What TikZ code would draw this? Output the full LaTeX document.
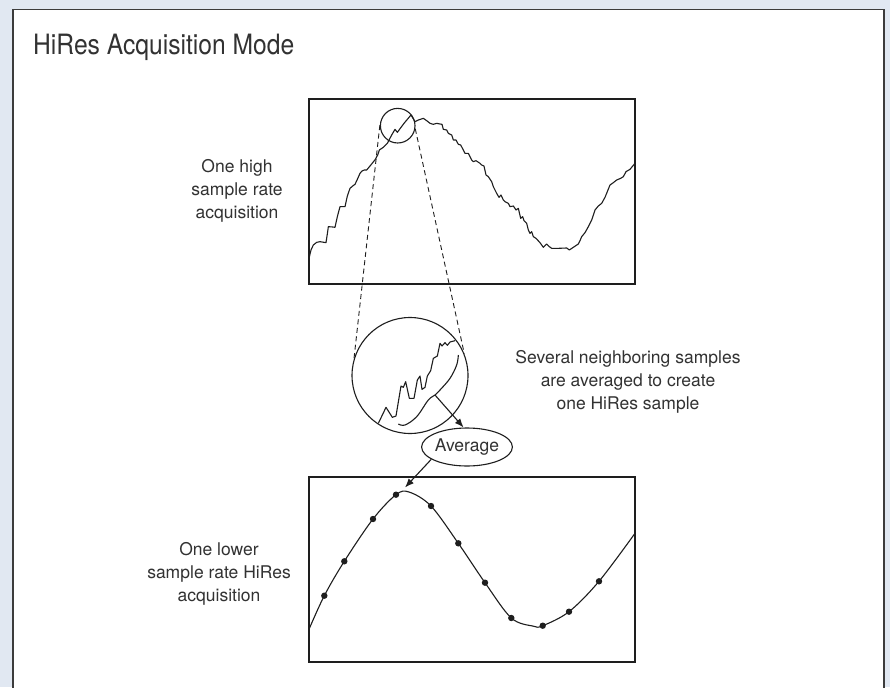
\documentclass[tikz,border=0pt]{standalone}
\usepackage{fontspec}
\setmainfont{TeX Gyre Heros}
\newfontfamily\titlefont[FakeStretch=0.88]{TeX Gyre Heros}
\usetikzlibrary{shapes.geometric,arrows.meta}
\definecolor{bgblue}{RGB}{225,232,242}
\definecolor{txt}{RGB}{50,50,50}
\definecolor{ln}{RGB}{30,30,30}
\definecolor{panelline}{RGB}{60,60,60}
\begin{document}
\begin{tikzpicture}[x=1pt,y=-1pt,
  plotbox/.style={draw=ln, line width=1.8pt, inner sep=0pt, minimum width=326pt, minimum height=185pt},
  wave/.style={draw=ln, line width=1.1pt, line join=round},
  lbl/.style={text=txt, align=center, inner sep=0pt, font=\fontsize{17.5}{23}\selectfont},
  ring/.style={draw=ln, circle, line width=1.1pt, inner sep=0pt},
  dashln/.style={draw=ln, line width=0.9pt, dash pattern=on 5pt off 3.5pt},
  arr/.style={draw=ln, line width=1.1pt, -{Latex[length=9pt,width=7pt]}},
  dot/.style={fill=ln}
]
\useasboundingbox (0,0) rectangle (890,687);
\fill[bgblue] (0,0) rectangle (890,687);
\draw[fill=white, draw=panelline, line width=1.3pt] (13,9.5) rectangle (884,700);

% title
\node[anchor=base west, text=txt, inner sep=0pt, font=\titlefont\fontsize{28}{32}\selectfont] (title) at (33,54.5) {HiRes Acquisition Mode};

% boxes
\node[plotbox] (topbox) at (472,191.5) {};
\node[plotbox] (botbox) at (472,569.5) {};

% labels
\node[lbl] (lblA) at (237,190.5) {One high\\sample rate\\acquisition};
\node[lbl] (lblB) at (219,574) {One lower\\sample rate HiRes\\acquisition};
\node[lbl] (lblC) at (628,382) {Several neighboring samples\\are averaged to create\\one HiRes sample};

% noisy acquisition
\begin{scope}[shift={(300pt,-90pt)}, x=0.33333pt, y=-0.33333pt]
\draw[wave] (27,505) -- (33,480) -- (40,465) -- (50,457) -- (60,455) -- (72,457) -- (78,458) -- (83,425) -- (85,410) -- (98,411) -- (105,412) -- (112,380) -- (120,350) -- (128,350) -- (135,350) -- (142,318) -- (150,295) -- (158,288) -- (165,283) -- (172,268) -- (180,250) -- (186,243) -- (193,240) -- (200,240) -- (210,228) -- (218,218) -- (226,208) -- (233,195) -- (238,180) -- (250,172) -- (262,160) -- (275,135) -- (285,118) -- (292,127) -- (312,100) -- (333,75) -- (345,95) -- (355,90) -- (370,85) -- (380,92) -- (390,100) -- (400,103) -- (410,100) -- (420,102) -- (426,103) -- (430,118) -- (440,120) -- (445,130) -- (455,135) -- (460,150) -- (468,150) -- (475,163) -- (482,165) -- (490,180) -- (495,190) -- (505,190) -- (515,210) -- (520,215) -- (528,212) -- (540,220) -- (545,225) -- (552,228) -- (558,255) -- (565,260) -- (575,275) -- (580,290) -- (590,310) -- (597,322) -- (603,315) -- (610,330) -- (615,335) -- (625,340) -- (630,350) -- (640,348) -- (648,360) -- (655,355) -- (662,385) -- (668,380) -- (672,392) -- (680,400) -- (685,420) -- (690,430) -- (695,425) -- (700,440) -- (708,445) -- (720,458) -- (730,472) -- (740,462) -- (748,470) -- (755,475) -- (775,475) -- (800,474) -- (808,480) -- (820,472) -- (835,462) -- (840,452) -- (845,440) -- (855,428) -- (865,410) -- (875,390) -- (885,360) -- (895,348) -- (905,340) -- (915,322) -- (930,285) -- (940,278) -- (950,270) -- (962,265) -- (970,260) -- (978,245) -- (990,238) -- (1005,220);
\end{scope}

% magnifier circles
\node[ring, minimum size=34.6pt] (small) at (397.7,125.7) {};
\node[ring, minimum size=116pt] (big) at (410,375.5) {};
\draw[dashln] (small.178) -- (big.163);
\draw[dashln] (small.350) -- (big.22);

% magnified content
\begin{scope}[shift={(340pt,-300pt)}, x=0.33333pt, y=-0.33333pt]
\draw[wave] (115,370) -- (138,322) -- (157,352) -- (168,348) -- (183,258) -- (190,262) -- (197,245) -- (208,295) -- (222,295) -- (232,240) -- (240,228) -- (246,268) -- (255,262) -- (262,228) -- (272,212) -- (280,175) -- (292,168) -- (300,130) -- (306,138) -- (315,128) -- (322,136) -- (330,126) -- (345,122);
\draw[wave] plot[smooth, tension=0.6] coordinates {(175,372) (195,375) (230,350) (265,300) (285,285) (300,270) (330,235) (350,195) (355,165)};
\end{scope}
\coordinate (br) at (435,395);

% average ellipse
\node[ellipse, draw=ln, line width=1.1pt, minimum width=86pt, minimum height=38pt, inner sep=0pt, text=txt, font=\fontsize{17.5}{21}\selectfont] (avg) at (467,447) {Average};
\draw[arr] (br) -- (avg.100);
\coordinate (pk) at (405,487.5);
\draw[arr] (avg.199) -- (pk);

% HiRes curve
\draw[wave] plot[smooth, tension=0.55] coordinates {(309,629.3) (324.3,595.7) (344.3,561.3) (373,519) (396,494.7) (409,492) (431,506) (458.3,543.3) (485,582.7) (511.3,618) (533.5,626.2) (542.7,625.7) (569,611.7) (599,581.3) (635,533.3)};
\foreach \p in {(324.3,595.7),(344.3,561.3),(373,519),(396,494.7),(431,506),(458.3,543.3),(485,582.7),(511.3,618),(542.7,625.7),(569,611.7),(599,581.3)}
  \fill[dot] \p circle[radius=3.2pt];
\end{tikzpicture}
\end{document}
